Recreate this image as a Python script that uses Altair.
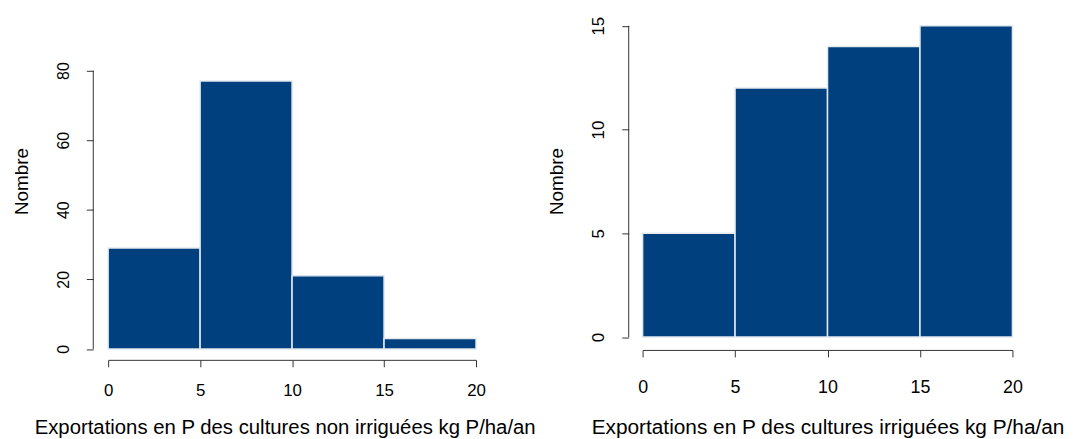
import altair as alt
import pandas as pd

# Data
bin_start = [0, 5, 10, 15]
bin_end = [5, 10, 15, 20]
counts_non_irr = [29, 77, 21, 3]
counts_irr = [5, 12, 14, 15]
x_ticks = [0, 5, 10, 15, 20]
y_ticks_left = [0, 20, 40, 60, 80]
y_ticks_right = [0, 5, 10, 15]

title_left = "Exportations en P des cultures non irriguées kg P/ha/an"
title_right = "Exportations en P des cultures irriguées kg P/ha/an"

FILL = "#00407f"
EDGE = "#e4e9f0"
AX = "#333333"
FONT = "Liberation Sans"


def panel(counts, yticks, ydomain, width, height, xoff, yoff, fs_xlab, fs_ylab,
          fs_xtitle, fs_ytitle, lab_pad_x, title_pad_x, lab_pad_y, title_pad_y,
          xtitle, title_x):
    df = pd.DataFrame({"start": bin_start, "end": bin_end, "n": counts})
    xscale = alt.Scale(domain=[min(x_ticks), max(x_ticks)], nice=False, zero=False)
    yscale = alt.Scale(domain=ydomain, nice=False, zero=False)
    bars = alt.Chart(df).mark_rect(fill=FILL, stroke=EDGE, strokeWidth=1.5).encode(
        x=alt.X("start:Q", scale=xscale,
                axis=alt.Axis(values=x_ticks, title=xtitle, grid=False, offset=xoff,
                              domainColor=AX, tickColor=AX, tickSize=7,
                              labelFontSize=fs_xlab, labelFont=FONT, labelColor="black",
                              labelPadding=lab_pad_x, titleFont=FONT,
                              titleFontSize=fs_xtitle, titleFontWeight="normal",
                              titleColor="black", titlePadding=title_pad_x,
                              titleX=title_x, labelFlush=False)),
        x2="end:Q",
        y=alt.Y("n:Q", scale=yscale,
                axis=alt.Axis(values=yticks, title="Nombre", grid=False, offset=yoff,
                              domain=False, tickColor=AX, tickSize=7,
                              labelAngle=270, labelAlign="center", labelBaseline="bottom",
                              labelFontSize=fs_ylab, labelFont=FONT, labelColor="black",
                              labelPadding=lab_pad_y, titleFont=FONT,
                              titleFontSize=fs_ytitle, titleFontWeight="normal",
                              titleColor="black", titlePadding=title_pad_y,
                              labelFlush=False)),
        y2=alt.datum(0),
    )
    axis_df = pd.DataFrame({"lo": [min(yticks)], "hi": [max(yticks)]})
    yline = alt.Chart(axis_df).mark_rule(color=AX, strokeWidth=1).encode(
        x=alt.value(-yoff),
        y=alt.Y("lo:Q", scale=yscale),
        y2="hi:Q",
    )
    return alt.layer(bars, yline).properties(
        width=width, height=height, view=alt.ViewConfig(stroke="transparent")
    )


H = 338.5
left = panel(counts_non_irr, y_ticks_left, [0, 96.47], 371, H, 11, 15,
             17, 16, 20.5, 19, 16, 19, 15, 24, title_left, 178)
right = panel(counts_irr, y_ticks_right, [-0.573, 15.6], 373, H, 1, 14,
              18, 17, 21, 19, 22, 20, 14, 24, title_right, 186.5)

chart = alt.hconcat(left, right, spacing=10).configure_view(
    stroke="transparent"
).configure(
    padding={"left": 4, "top": 2.5, "right": 0, "bottom": 0},
    background="white",
)

chart.save("out.html", embed_options={"renderer": "svg", "actions": False})
